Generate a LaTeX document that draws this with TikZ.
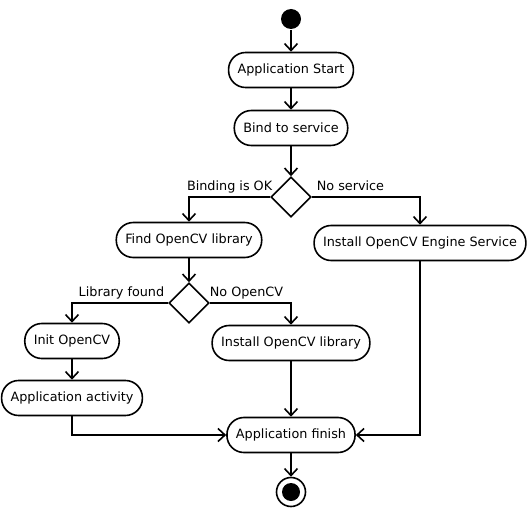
\documentclass[tikz,border=0pt]{standalone}
\usepackage{fontspec}
\setmainfont{DejaVu Sans}
\usetikzlibrary{arrows.meta, positioning, shapes.geometric}

\begin{document}
\begin{tikzpicture}[x=1pt, y=-1pt, line width=1.6pt,
        >={Straight Barb[length=7pt, width=13pt, line width=1.6pt]},
        act/.style={draw, rounded corners=17pt, minimum height=35pt, inner xsep=9pt,
            font=\fontsize{12.8}{15}\selectfont},
        dec/.style={draw, diamond, aspect=1, minimum size=40pt, inner sep=0},
        ini/.style={circle, fill, inner sep=0, minimum size=20pt},
        lbl/.style={font=\fontsize{12.8}{15}\selectfont, inner sep=0}]
    \useasboundingbox (0,0) rectangle (527,508);
    \node(s)[ini] at (291,19) {};
    \node(a1)[act] at (291,70) {Application Start};
    \node(a2)[act] at (291,128) {Bind to service};
    \node(d1)[dec] at (291,197) {};
    \draw[->] (s) -- (a1);
    \draw[->] (a1) -- (a2);
    \draw[->] (a2) -- (d1);
    \node[lbl, anchor=base east] at (273,190) {Binding is OK};
    \node[lbl, anchor=base west] at (316,190) {No service};

    \node(a3)[act] at (189,240) {Find OpenCV library};
    \node(a4)[act] at (420,243) {Install OpenCV Engine Service};
    \draw[->] (d1.west) -| (a3);
    \draw[->] (d1.east) -| (a4);

    \node(d2)[dec] at (189,303) {};
    \draw[->] (a3) -- (d2);
    \node[lbl, anchor=base east] at (165,296) {Library found};
    \node[lbl, anchor=base west] at (209,296) {No OpenCV};

    \node(a5)[act] at (72,341) {Init OpenCV};
    \node(a6)[act] at (291,343) {Install OpenCV library};
    \draw[->] (d2.west) -| (a5);
    \draw[->] (d2.east) -| (a6);
    \node(a7)[act] at (72,398) {Application activity};
    \draw[->] (a5) -- (a7);

    \node(f)[act] at (291,435) {Application finish};
    \draw[->] (a6) -- (f);
    \draw[->] (a7) |- (f);
    \draw[->] (a4) |- (f);

    \node(e)[draw, circle, inner sep=0, minimum size=29pt] at (291,492) {};
    \node[ini, minimum size=18pt] at (e) {};
    \draw[->] (f) -- (e);
\end{tikzpicture}
\end{document}
